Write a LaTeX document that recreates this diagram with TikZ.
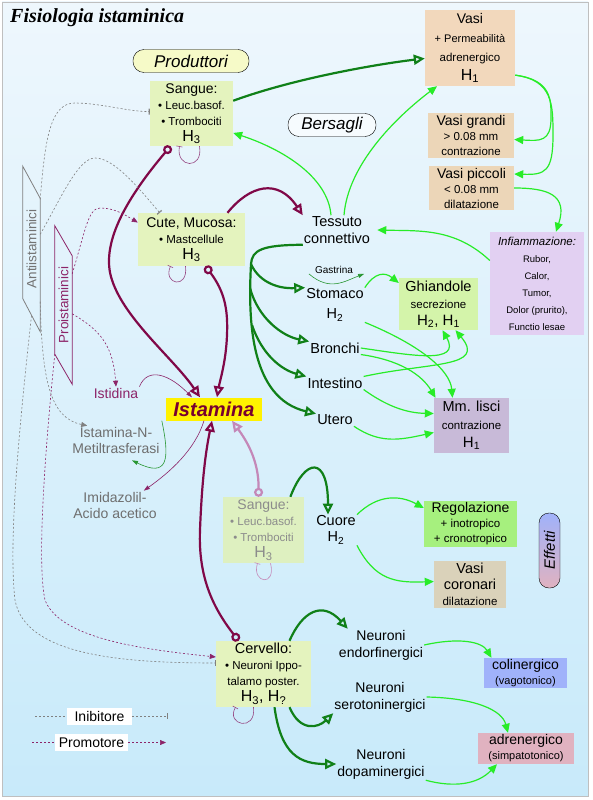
\documentclass[tikz,border=0pt]{standalone}
\usepackage{fontspec}
\setmainfont{Liberation Sans}
\newfontfamily\titlefont{Liberation Serif}
\usetikzlibrary{arrows.meta}
\definecolor{bgtop}{RGB}{238,247,253}
\definecolor{bgbot}{RGB}{200,234,250}
\definecolor{prodfill}{RGB}{228,243,190}
\definecolor{fadefill}{RGB}{222,240,192}
\definecolor{pillfill}{RGB}{246,250,200}
\definecolor{vasifill}{RGB}{242,216,188}
\definecolor{vasofill}{RGB}{236,214,184}
\definecolor{inflfill}{RGB}{226,208,242}
\definecolor{ghiafill}{RGB}{212,244,170}
\definecolor{mmfill}{RGB}{200,186,216}
\definecolor{regfill}{RGB}{166,240,126}
\definecolor{corofill}{RGB}{218,210,186}
\definecolor{colifill}{RGB}{160,178,250}
\definecolor{adrefill}{RGB}{224,178,192}
\definecolor{dkgreen}{RGB}{16,128,24}
\definecolor{ltgreen}{RGB}{40,236,40}
\definecolor{midgreen}{RGB}{40,150,50}
\definecolor{dkred}{RGB}{128,8,72}
\definecolor{prored}{RGB}{140,36,104}
\definecolor{fadered}{RGB}{196,136,184}
\definecolor{loopcol}{RGB}{150,70,130}
\definecolor{txtgray}{RGB}{110,110,110}
\definecolor{fadetxt}{RGB}{140,140,140}
\definecolor{istatxt}{RGB}{120,0,48}
\newcommand{\fs}[2]{\fontsize{#1}{#2}\selectfont}
\tikzset{
  srcbox/.style={align=center,inner sep=0pt,fill=prodfill},
  effbox/.style={align=center,inner sep=0pt},
  organ/.style={align=center,inner sep=1pt,font=\fs{14.5}{17}},
  pill/.style={draw,rounded corners=11pt,minimum height=23pt,inner sep=0pt,font=\itshape\fs{17}{20}},
  drug/.style={rotate=90,inner sep=0pt,minimum height=17pt,font=\fs{13.5}{16}},
  legbox/.style={fill=white,inner sep=0pt,minimum height=17pt,font=\fs{14}{16}},
  act/.style={draw=dkgreen,line width=2.2pt,-{Triangle[open,length=11pt,width=10pt]}},
  eff/.style={draw=ltgreen,line width=1.2pt,-{Triangle[length=9pt,width=8pt]}},
  hist/.style={draw=dkred,line width=2.2pt,{Circle[open,length=9pt]}-{Triangle[open,length=11pt,width=10pt]}},
  feedback/.style={draw=loopcol,line width=0.6pt,-{Bar[width=6pt]}},
  inib/.style={draw=gray,line width=0.6pt,dash pattern=on 2pt off 2pt,-{Bar[width=6pt]Bar[width=6pt]}},
  promo/.style={draw=prored,line width=0.6pt,dash pattern=on 2pt off 2pt,-{Triangle[length=6pt,width=5pt]}},
  metab/.style={line width=0.6pt,-{Triangle[length=6pt,width=4pt]}}
}
\begin{document}
\begin{tikzpicture}[x=1pt,y=-1pt]
\useasboundingbox (0,0) rectangle (592,800);
\shade[top color=bgtop,bottom color=bgbot,draw=gray!50] (2,2) rectangle (588,796);
\node[anchor=base west,inner sep=0pt,font=\titlefont\bfseries\itshape\fs{20}{24}] (title) at (10,23) {Fisiologia istaminica};
\node[pill,fill=pillfill,minimum width=116pt] (produttori) at (191,61) {Produttori};
\node[pill,fill=white!50!bgtop,minimum width=88pt] (bersagli) at (332,125) {Bersagli};
\node[srcbox,minimum width=83pt,minimum height=65pt,font=\fs{11.5}{16}] (sangue) at (191.5,113.5)
  {{\fs{14}{16}Sangue:}\\• Leuc.basof.\\• Trombociti\\{\fs{16}{16}H\textsubscript{3}}};
\node[srcbox,minimum width=107pt,minimum height=53pt,font=\fs{11.5}{16}] (cute) at (191.5,239.5)
  {{\fs{14}{16}Cute, Mucosa:}\\• Mastcellule\\{\fs{16}{16}H\textsubscript{3}}};
\node[srcbox,fill=fadefill,text=fadetxt,minimum width=81pt,minimum height=66pt,font=\fs{11.5}{16}] (sang2) at (263.5,530)
  {{\fs{14}{16}Sangue:}\\• Leuc.basof.\\• Trombociti\\{\fs{16}{16}H\textsubscript{3}}};
\node[srcbox,minimum width=95pt,minimum height=66pt,font=\fs{11.5}{16}] (cerv) at (263.5,674)
  {{\fs{14.5}{16}Cervello:}\\• Neuroni Ippo-\\talamo poster.\\{\fs{16}{16}H\textsubscript{3}, H\textsubscript{?}}};
\node[effbox,fill=vasifill,minimum width=90pt,minimum height=76pt,font=\fs{11}{19}] (vasi) at (470,48)
  {{\fs{14}{19}Vasi}\\+ Permeabilità\\{\fs{11.5}{19}adrenergico}\\{\fs{16}{19}H\textsubscript{1}}};
\node[effbox,fill=vasofill,minimum width=86pt,minimum height=45pt,font=\fs{11.5}{15}] (vgrandi) at (471,135.5)
  {{\fs{14}{15}Vasi grandi}\\> 0.08 mm\\contrazione};
\node[effbox,fill=vasofill,minimum width=85pt,minimum height=44pt,font=\fs{11.5}{15}] (vpiccoli) at (471.5,188)
  {{\fs{14}{15}Vasi piccoli}\\< 0.08 mm\\dilatazione};
\node[effbox,fill=inflfill,minimum width=94pt,minimum height=103pt,font=\fs{9.5}{17}] (infl) at (537,283.5)
  {{\itshape\fs{11.5}{17}Infiammazione:}\\Rubor,\\Calor,\\Tumor,\\Dolor (prurito),\\Functio lesae};
\node[effbox,fill=ghiafill,minimum width=79pt,minimum height=52pt,font=\fs{11.5}{17}] (ghia) at (438.5,304)
  {{\fs{14.5}{17}Ghiandole}\\secrezione\\{\fs{15}{17}H\textsubscript{2}, H\textsubscript{1}}};
\node[effbox,fill=mmfill,minimum width=75pt,minimum height=55pt,font=\fs{11.5}{18}] (mm) at (471.5,425.5)
  {{\fs{14.5}{18}Mm. lisci}\\contrazione\\{\fs{15}{18}H\textsubscript{1}}};
\node[effbox,fill=regfill,minimum width=93pt,minimum height=46pt,font=\fs{11.5}{15}] (regol) at (470.5,524)
  {{\fs{14}{15}Regolazione}\\+ inotropico\\+ cronotropico};
\node[effbox,fill=corofill,minimum width=72pt,minimum height=47pt,font=\fs{11.5}{16}] (coro) at (470,584.5)
  {{\fs{14.5}{16}Vasi}\\{\fs{14.5}{16}coronari}\\dilatazione};
\node[effbox,fill=colifill,minimum width=83pt,minimum height=30pt,font=\fs{11}{15}] (coli) at (525.5,673)
  {{\fs{14}{15}colinergico}\\(vagotonico)};
\node[effbox,fill=adrefill,minimum width=96pt,minimum height=31pt,font=\fs{11}{15}] (adre) at (526,748.5)
  {{\fs{14}{15}adrenergico}\\(simpatotonico)};
\node[draw,rounded corners=10pt,minimum width=21pt,minimum height=75pt,inner sep=0pt,
  top color=colifill,bottom color=adrefill,font=\itshape\fs{15}{18}] (effetti) at (549.5,550.5) {\rotatebox{90}{Effetti}};
\node[organ] (tess) at (337,230) {Tessuto\\connettivo};
\node[organ,font=\fs{10}{12},inner sep=0pt] (gastr) at (334,270) {Gastrina};
\node[organ,font=\fs{14.5}{20}] (stom) at (335,305) {Stomaco\\H\textsubscript{2}};
\node[organ] (bron) at (335,348) {Bronchi};
\node[organ] (intes) at (335,383) {Intestino};
\node[organ] (utero) at (335,420) {Utero};
\node[organ,font=\fs{14.5}{16}] (cuore) at (336,530) {Cuore\\H\textsubscript{2}};
\node[organ,font=\fs{14}{17}] (nendo) at (381,645) {Neuroni\\endorfinergici};
\node[organ,font=\fs{14}{17}] (nsero) at (380,697) {Neuroni\\serotoninergici};
\node[organ,font=\fs{14}{17}] (ndopa) at (381,764) {Neuroni\\dopaminergici};
\node[fill=yellow,inner sep=0pt,minimum width=96pt,minimum height=23pt,text=istatxt,font=\bfseries\itshape\fs{20}{22}] (ista) at (214,409) {Istamina};
\node[organ,text=prored,font=\fs{14}{16}] (istid) at (116,393) {Istidina};
\node[organ,text=txtgray,font=\fs{14}{16}] (metil) at (116,440) {Istamina-N-\\Metiltrasferasi};
\node[organ,text=txtgray,font=\fs{14}{16}] (imid) at (115,505) {Imidazolil-\\Acido acetico};
\node[drug,text=gray!90!black,minimum width=165pt] (anti) at (31.5,249) {Antiistaminici};
\node[drug,text=prored,minimum width=158pt] (pro) at (63.5,305) {Proistaminici};
\draw[gray,line width=0.8pt] (anti.north east) -- ([yshift=-32pt]anti.south east) -- (anti.south west) -- ([yshift=33pt]anti.north west) -- cycle;
\draw[prored,line width=0.8pt] (pro.north east) -- ([yshift=-30pt]pro.south east) -- (pro.south west) -- ([yshift=30pt]pro.north west) -- cycle;
\node[legbox,minimum width=65pt] (linib) at (99.5,716) {Inibitore};
\node[legbox,minimum width=73pt] (lpromo) at (91.5,742.5) {Promotore};
\coordinate (inibA) at (35,716);
\coordinate (inibB) at (168,716);
\coordinate (promoA) at (32,742.5);
\coordinate (promoB) at (166,742.5);
\coordinate (k1) at (251,264);
\coordinate (k2) at (250,288);
\coordinate (k3) at (252,325);
% effetti
\draw[act] (sangue.17) .. controls +(60,-22) and +(-50,6) .. (vasi.193);
\draw[act] (tess.south west) .. controls (262,245) and (252,250) .. (k1) .. controls (248,320) and (250,398) .. (utero.north west);
\draw[act] (k1) .. controls (258,280) and (275,289) .. (stom.north west);
\draw[act] (k2) .. controls (258,318) and (282,336) .. (bron.north west);
\draw[act] (k3) .. controls (262,355) and (282,370) .. (intes.north west);
\draw[act] (sang2.51) .. controls (305,458) and (328,455) .. ([xshift=-8pt]cuore.north);
\draw[act] ([xshift=26pt]cerv.north) .. controls (302,612) and (322,600) .. ([xshift=10pt]nendo.north west);
\draw[act] ([xshift=26pt]cerv.south) .. controls (300,732) and (318,728) .. (nsero.south west);
\draw[act] ([xshift=11pt]cerv.south) .. controls (281,755) and (300,764) .. (ndopa.west);
\draw[eff] ([xshift=-6pt]tess.north) .. controls (328,178) and (285,150) .. (sangue.-25);
\draw[eff] ([xshift=7pt]tess.north) .. controls (348,165) and (395,118) .. ([xshift=-33pt]vasi.south);
\draw[eff] (vasi.-31) .. controls (552,80) and (551,100) .. (551,118) .. controls (551,142) and (540,141) .. ([yshift=-4pt]vgrandi.east);
\draw[eff] (vasi.-31) .. controls (553,80) and (553,105) .. (553,135) .. controls (553,172) and (545,175) .. ([yshift=14pt]vpiccoli.east);
\draw[eff] (vpiccoli.east) .. controls (548,188) and (568,195) .. ([xshift=19pt]infl.north);
\draw[eff] ([yshift=23pt]infl.west) .. controls (455,228) and (420,231) .. ([xshift=6pt]tess.east);
\draw[metab,draw=midgreen] ([xshift=-6pt]gastr.south west) .. controls (330,292) and (345,281) .. ([xshift=11pt]gastr.south east);
\draw[eff] (stom.north east) .. controls (375,272) and (385,272) .. ([yshift=21pt]ghia.west);
\draw[eff] (stom.south east) .. controls (420,345) and (450,370) .. ([xshift=-19pt]mm.north);
\draw[eff] (bron.east) .. controls (410,355) and (462,365) .. ([xshift=4pt]ghia.south);
\draw[eff] (bron.south east) .. controls (400,360) and (422,375) .. ([xshift=-36pt]mm.north);
\draw[eff] (intes.north east) .. controls (430,362) and (487,368) .. ([xshift=17pt]ghia.south);
\draw[eff] (intes.south east) .. controls (385,405) and (405,413) .. ([yshift=12pt]mm.west);
\draw[eff] (utero.south east) .. controls (380,444) and (400,440) .. ([yshift=-7pt]mm.west);
\draw[eff] (cuore.north east) .. controls (378,494) and (400,495) .. ([yshift=16pt]regol.west);
\draw[eff] (cuore.south east) .. controls (375,580) and (395,583) .. ([yshift=3pt]coro.west);
\draw[eff] (nendo.east) .. controls (460,637) and (482,642) .. ([xshift=-34pt]coli.north);
\draw[eff] (nsero.east) .. controls (475,698) and (502,710) .. ([xshift=-18pt]adre.north);
\draw[eff] (ndopa.south east) .. controls (455,788) and (478,784) .. ([xshift=-29pt]adre.south);
% istamina
\draw[hist] ([xshift=-21pt]sangue.south) .. controls (125,200) and (100,245) .. (112,280) .. controls (125,320) and (175,360) .. ([xshift=-14pt]ista.north);
\draw[hist] ([xshift=14pt]cute.south) .. controls (225,292) and (228,310) .. (227,335) .. controls (226,362) and (220,380) .. ([xshift=3pt]ista.north);
\draw[hist,-{Triangle[open,length=11pt,width=10pt]}] ([xshift=36pt]cute.north) .. controls (250,185) and (278,178) .. (tess.north west);
\draw[hist] ([xshift=-25pt]cerv.north) .. controls (215,610) and (198,580) .. (200,530) .. controls (202,478) and (206,450) .. ([xshift=-2pt]ista.south);
\draw[hist,draw=fadered] ([xshift=-5pt]sang2.north) .. controls (259,460) and (246,440) .. ([xshift=18pt]ista.south);
\draw[metab,draw=prored] (istid.north east) .. controls (148,366) and (170,375) .. ([xshift=-22pt]ista.north);
\draw[metab,draw=prored] ([xshift=-10pt]ista.south) .. controls (195,450) and (170,472) .. ([xshift=-14pt]imid.north east);
\draw[metab,draw=midgreen] ([xshift=-4pt]ista.south west) .. controls (170,460) and (168,478) .. ([xshift=16pt,yshift=-6pt]metil.south);
\draw[feedback] ([xshift=8pt]sangue.south) .. controls +(4,24) and +(-4,22) .. ([xshift=-12pt]sangue.south);
\draw[feedback] ([xshift=-6pt]cute.south) .. controls +(3,24) and +(-8,18) .. ([xshift=-21pt]cute.south);
\draw[feedback,draw=fadered] ([xshift=7pt]sang2.south) .. controls +(6,24) and +(-6,20) .. ([xshift=-6pt]sang2.south);
\draw[feedback] ([xshift=-10pt]cerv.south) .. controls +(3,25) and +(-10,18) .. ([xshift=-28pt]cerv.south);
% farmaci
\draw[inib] ([yshift=-33pt]anti.south east) .. controls (45,140) and (50,103) .. (75,103) .. controls (100,103) and (130,112) .. ([yshift=2pt]sangue.west);
\draw[inib] ([yshift=-68pt]anti.south east) .. controls (60,200) and (78,158) .. (95,158) .. controls (115,158) and (140,190) .. ([xshift=22pt]cute.north west);
\draw[promo,draw=gray] ([yshift=30pt]anti.south west) .. controls (42,380) and (50,418) .. ([xshift=16pt]metil.north west);
\draw[inib] ([yshift=16pt]anti.west) .. controls (20,420) and (8,540) .. (15,600) .. controls (25,655) and (120,663) .. ([yshift=11pt]cerv.west);
\draw[promo] ([yshift=-48pt]pro.south east) .. controls (85,232) and (88,208) .. (100,208) .. controls (115,208) and (125,215) .. ([yshift=17pt]cute.west);
\draw[promo] ([yshift=-88pt]pro.south east) .. controls (100,330) and (113,345) .. (istid.north);
\draw[promo] ([yshift=30pt]pro.north west) .. controls (47,430) and (36,560) .. (45,600) .. controls (60,640) and (150,650) .. ([yshift=17pt]cerv.west);
\draw[inib,-] (inibA) -- (linib);
\draw[inib] (linib) -- (inibB);
\draw[promo,-] (promoA) -- (lpromo);
\draw[promo] (lpromo) -- (promoB);
\end{tikzpicture}
\end{document}
